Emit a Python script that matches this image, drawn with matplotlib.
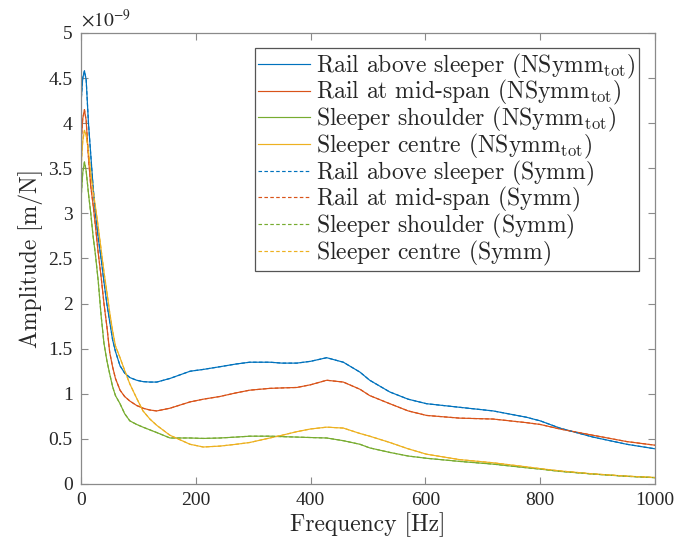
import matplotlib
matplotlib.use("Agg")
import matplotlib.pyplot as plt
from matplotlib.ticker import FuncFormatter

plt.rcParams['font.family'] = 'cmr10'
plt.rcParams['mathtext.fontset'] = 'cm'
plt.rcParams['axes.formatter.use_mathtext'] = True

# frequency grid [Hz] and amplitudes [1e-9 m/N]
freq = [0, 3, 6, 9, 13, 17, 21, 25, 30, 35, 40, 45, 50, 55, 60, 68, 76, 85, 97,
        108, 120, 132, 155, 190, 213, 242, 270, 294, 329, 350, 376, 400, 428,
        457, 486, 503, 538, 570, 602, 660, 718, 776, 800, 834, 892, 951, 1000]

rail_sleeper = [4.22, 4.5, 4.58, 4.48, 4.0, 3.65, 3.3, 3.0, 2.73, 2.5, 2.24, 2.0,
                1.8, 1.6, 1.47, 1.31, 1.23, 1.18, 1.15, 1.135, 1.13, 1.13, 1.17,
                1.25, 1.27, 1.30, 1.33, 1.35, 1.35, 1.34, 1.34, 1.36, 1.40, 1.35,
                1.24, 1.15, 1.02, 0.94, 0.89, 0.85, 0.81, 0.74, 0.70, 0.62, 0.52,
                0.44, 0.39]
rail_midspan = [3.75, 4.05, 4.15, 4.03, 3.62, 3.3, 3.1, 2.87, 2.56, 2.3, 2.0, 1.75,
                1.46, 1.3, 1.17, 1.04, 0.97, 0.92, 0.87, 0.84, 0.82, 0.81, 0.84,
                0.91, 0.94, 0.97, 1.01, 1.04, 1.06, 1.065, 1.07, 1.10, 1.15, 1.13,
                1.05, 0.98, 0.89, 0.81, 0.76, 0.73, 0.72, 0.68, 0.66, 0.61, 0.54,
                0.47, 0.43]
sleeper_shoulder = [3.15, 3.45, 3.57, 3.47, 3.22, 3.0, 2.75, 2.55, 2.25, 1.87,
                    1.56, 1.37, 1.22, 1.08, 0.98, 0.89, 0.78, 0.70, 0.66, 0.63,
                    0.60, 0.57, 0.51, 0.51, 0.505, 0.51, 0.52, 0.53, 0.53, 0.525,
                    0.52, 0.515, 0.51, 0.48, 0.44, 0.40, 0.35, 0.31, 0.285, 0.25,
                    0.22, 0.18, 0.165, 0.14, 0.11, 0.085, 0.07]
sleeper_centre = [3.5, 3.8, 3.92, 3.87, 3.68, 3.45, 3.25, 3.08, 2.85, 2.6, 2.35,
                  2.13, 1.9, 1.7, 1.53, 1.40, 1.26, 1.11, 0.95, 0.81, 0.72, 0.65,
                  0.54, 0.44, 0.41, 0.42, 0.44, 0.46, 0.51, 0.54, 0.58, 0.61, 0.63,
                  0.62, 0.56, 0.53, 0.46, 0.39, 0.33, 0.27, 0.235, 0.19, 0.17,
                  0.145, 0.112, 0.087, 0.072]

names = ['Rail above sleeper', 'Rail at mid-span', 'Sleeper shoulder', 'Sleeper centre']
series = [rail_sleeper, rail_midspan, sleeper_shoulder, sleeper_centre]
colors = ['#0072BD', '#D95319', '#77AC30', '#EDB120']

fig = plt.figure(figsize=(6.9, 5.47), dpi=100)
ax = fig.add_axes([0.1174, 0.1152, 0.8319, 0.8245])

for name, y, c in zip(names, series, colors):
    ax.plot(freq, y, color=c, lw=0.85, label=name + r' (NSymm$_{\mathrm{tot}}$)')
# an empty subscript keeps the row height equal to the rows above
for name, y, c in zip(names, series, colors):
    ax.plot(freq, y, color=c, lw=0.85, ls=(0, (3, 2)),
            label=name + r' (Symm)$_{\,}$')

ax.set_xlim(0, 1000)
ax.set_ylim(0, 5)
ax.set_xticks([0, 200, 400, 600, 800, 1000])
ax.set_yticks([0, 0.5, 1, 1.5, 2, 2.5, 3, 3.5, 4, 4.5, 5])
ax.yaxis.set_major_formatter(FuncFormatter(lambda v, p: '%g' % v))
ax.xaxis.set_major_formatter(FuncFormatter(lambda v, p: '%g' % v))

txt = '#262626'
for s in ax.spines.values():
    s.set_color('#8a8a8a')
    s.set_linewidth(0.9)
ax.tick_params(direction='in', length=5, width=0.8, color='#8a8a8a',
               top=True, right=True, labelsize=14, labelcolor=txt,
               labelfontfamily='Liberation Serif', pad=6)

ax.set_xlabel('Frequency [Hz]', fontsize=17, color=txt, labelpad=2)
ax.set_ylabel('Amplitude [m/N]', fontsize=17, color=txt, labelpad=4)
ax.text(0.0, 1.005, r'$\times10^{-9}$', transform=ax.transAxes, ha='left',
        va='bottom', fontsize=14, color=txt, math_fontfamily='stix')

leg = ax.legend(loc='upper right', bbox_to_anchor=(0.9721, 0.9667),
                borderaxespad=0, fontsize=17, fancybox=False, framealpha=1,
                edgecolor='#555555', handlelength=2.2, handletextpad=0.25,
                labelspacing=-0.1, borderpad=0.15)
leg.get_frame().set_linewidth(0.9)
for t in leg.get_texts():
    t.set_color(txt)

fig.savefig('out.png', dpi=100)
